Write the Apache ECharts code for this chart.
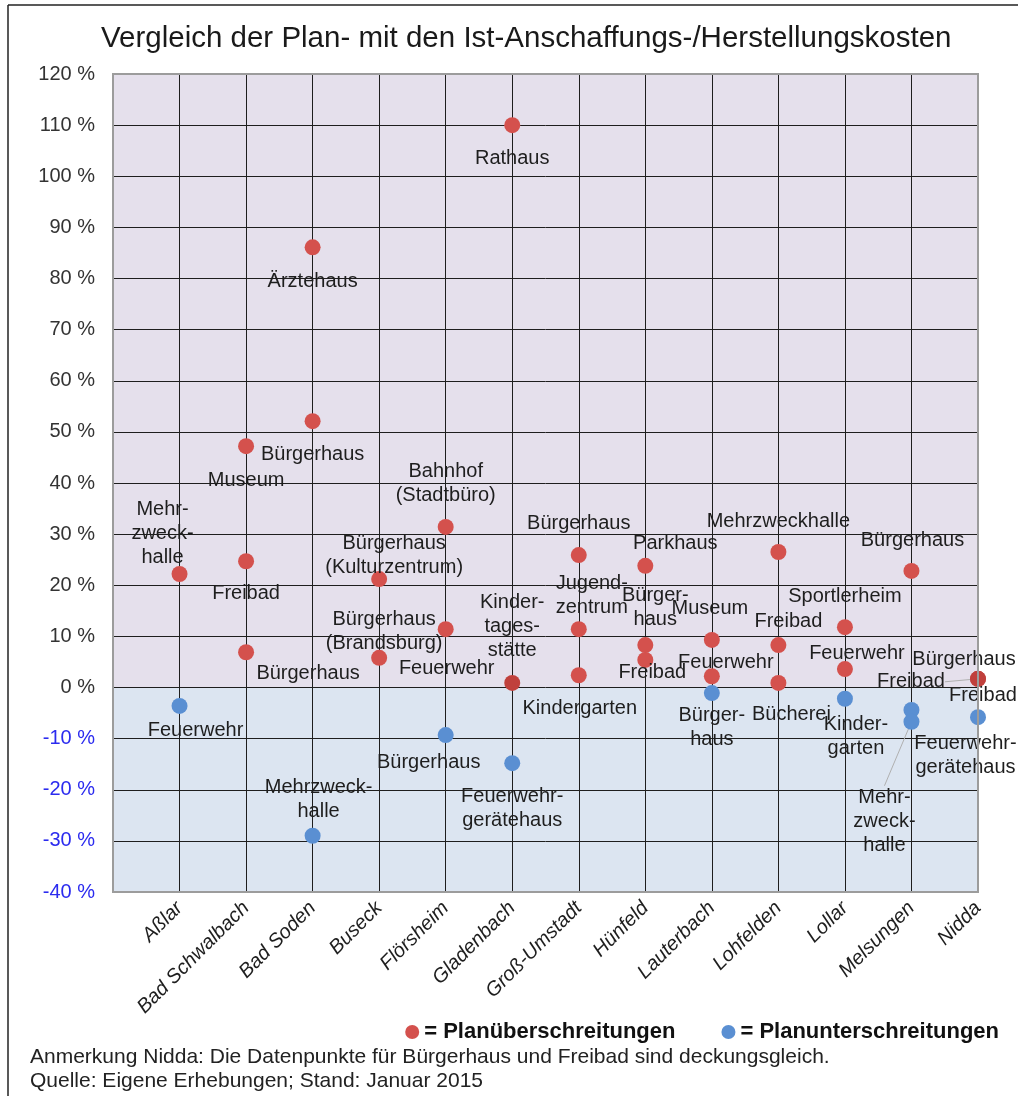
<!DOCTYPE html>
<html>
<head>
<meta charset="utf-8">
<script src="https://cdn.jsdelivr.net/npm/echarts@6/dist/echarts.min.js"></script>
<style>
  html, body { margin: 0; padding: 0; background: #fff; }
  #chart { width: 1018px; height: 1096px; }
</style>
</head>
<body>
<div id="chart"></div>
<script>
// Kommunen (x-Achse)
const categories = ['Aßlar', 'Bad Schwalbach', 'Bad Soden', 'Buseck', 'Flörsheim', 'Gladenbach',
  'Groß-Umstadt', 'Hünfeld', 'Lauterbach', 'Lohfelden', 'Lollar', 'Melsungen', 'Nidda'];

// y-Achse in %
const yTicks = [-40, -30, -20, -10, 0, 10, 20, 30, 40, 50, 60, 70, 80, 90, 100, 110, 120];

// Planüberschreitungen (rot)
const overTown = [1, 2, 2, 2, 3, 3, 4, 4, 5, 5, 6, 6, 7, 7, 7, 8, 8, 8, 9, 9, 10, 10, 10, 11, 11, 12, 13, 13];
const overPct = [22.2, 47.2, 24.7, 6.9, 86.1, 52.1, 21.2, 5.8, 31.4, 11.4, 110.0, 0.9, 25.9, 11.4, 2.4,
  23.8, 8.3, 5.4, 9.3, 2.2, 26.5, 8.3, 0.9, 11.8, 3.6, 22.8, 1.7, 1.7];
const overName = ['Mehr-\nzweck-\nhalle', 'Museum', 'Freibad', 'Bürgerhaus', 'Ärztehaus', 'Bürgerhaus',
  'Bürgerhaus\n(Kulturzentrum)', 'Bürgerhaus\n(Brandsburg)', 'Bahnhof\n(Stadtbüro)', 'Feuerwehr',
  'Rathaus', 'Kinder-\ntages-\nstätte', 'Bürgerhaus', 'Jugend-\nzentrum', 'Kindergarten',
  'Parkhaus', 'Bürger-\nhaus', 'Freibad', 'Museum', 'Feuerwehr', 'Mehrzweckhalle', 'Freibad',
  'Bücherei', 'Sportlerheim', 'Feuerwehr', 'Bürgerhaus', 'Bürgerhaus', 'Freibad'];

// Planunterschreitungen (blau)
const underTown = [1, 3, 5, 6, 9, 11, 12, 12, 13];
const underPct = [-3.6, -29.0, -9.3, -14.8, -1.1, -2.2, -4.4, -6.7, -5.8];
const underName = ['Feuerwehr', 'Mehrzweck-\nhalle', 'Bürgerhaus', 'Feuerwehr-\ngerätehaus', 'Bürger-\nhaus',
  'Kinder-\ngarten', 'Feuerwehr-\ngerätehaus', 'Mehr-\nzweck-\nhalle', 'Freibad'];

// Lage der Beschriftungen relativ zum Punkt (px)
const overShift = [[-17, -41], [0, 34], [0, 32], [62, 21], [0, 34], [0, 33], [15, -24], [5, -26],
  [0, -43], [1, 39], [0, 33], [0, -56], [0, -32], [13, -34], [1, 33], [30, -22], [10, -38], [7, 13],
  [-2, -31], [14, -14], [0, -31], [10, -24], [13, 32], [0, -31], [12, -16], [1, -30], [-14, -19], [-67, 3]];
const underShift = [[16, 25], [6, -36], [-17, 27], [0, 45], [0, 34], [11, 38], [54, 45], [-27, 100], [5, -22]];
const overLeader = [27];
const underLeader = [7];

const RED = '#d4514d';
const BLUE = '#5a8fd2';
const FONT = '"Liberation Sans", Arial, sans-serif';

function points(town, pct, names, leader) {
  return town.map((t, i) => {
    const item = { value: [t, pct[i]], name: names[i] };
    if (leader.indexOf(i) >= 0) {
      item.labelLine = { show: true, lineStyle: { color: '#b0b0b0', width: 1 } };
    }
    return item;
  });
}

const overData = points(overTown, overPct, overName, overLeader);
const underData = points(underTown, underPct, underName, underLeader);
// überlagerte Punkte (Gladenbach, Nidda) etwas dunkler
[11, 26, 27].forEach(i => { overData[i].itemStyle = { color: '#c0403c' }; });

const pointLabel = {
  show: true,
  position: 'inside',
  formatter: '{b}',
  color: '#1e1e1e',
  fontFamily: FONT,
  fontSize: 20,
  lineHeight: 24,
  align: 'center',
  verticalAlign: 'middle'
};

const chart = echarts.init(document.getElementById('chart'));
chart.setOption({
  backgroundColor: '#fff',
  animation: false,
  title: {
    text: 'Vergleich der Plan- mit den Ist-Anschaffungs-/Herstellungskosten',
    left: 96, top: 19,
    textStyle: { fontFamily: FONT, fontSize: 29.5, fontWeight: 'normal', color: '#1a1a1a' }
  },
  grid: {
    left: 113, right: 40, top: 74, bottom: 204,
    show: true, borderColor: '#9c9c9c', borderWidth: 2, z: 10
  },
  legend: {
    data: ['Planüberschreitungen', 'Planunterschreitungen'],
    right: 14, top: 1016,
    icon: 'circle', itemWidth: 14, itemHeight: 14, itemGap: 46,
    formatter: '= {name}',
    textStyle: { fontFamily: FONT, fontSize: 22, fontWeight: 'bold', color: '#111' }
  },
  xAxis: {
    type: 'value', min: 0, max: categories.length, interval: 1, z: 3,
    axisLine: { show: false }, axisTick: { show: false },
    splitLine: { show: true, lineStyle: { color: '#1e1e1e', width: 1 } },
    axisLabel: {
      rotate: 45, margin: 13,
      fontFamily: FONT, fontSize: 20, fontStyle: 'italic', color: '#1e1e1e',
      formatter: v => categories[v - 1] || ''
    }
  },
  yAxis: {
    type: 'value', min: yTicks[0], max: yTicks[yTicks.length - 1], interval: 10, z: 3,
    axisLine: { show: false }, axisTick: { show: false },
    splitLine: { show: true, lineStyle: { color: '#1e1e1e', width: 1 } },
    axisLabel: {
      margin: 18, fontFamily: FONT, fontSize: 20,
      formatter: v => v + ' %',
      color: v => (v < 0 ? '#2b2bef' : '#333')
    }
  },
  series: [
    {
      name: 'bg', type: 'scatter', data: [], silent: true, z: 1,
      markArea: {
        silent: true,
        data: [
          [{ yAxis: 0, itemStyle: { color: '#e5e0ec' } }, { yAxis: yTicks[yTicks.length - 1] }],
          [{ yAxis: yTicks[0], itemStyle: { color: '#dce5f1' } }, { yAxis: 0 }]
        ]
      }
    },
    {
      name: 'Planüberschreitungen', type: 'scatter', z: 5,
      symbolSize: 16,
      itemStyle: { color: RED, opacity: 1 },
      label: pointLabel,
      labelLayout: p => ({ dx: overShift[p.dataIndex][0], dy: overShift[p.dataIndex][1] }),
      data: overData
    },
    {
      name: 'Planunterschreitungen', type: 'scatter', z: 5,
      symbolSize: 16,
      itemStyle: { color: BLUE, opacity: 1 },
      label: pointLabel,
      labelLayout: p => ({ dx: underShift[p.dataIndex][0], dy: underShift[p.dataIndex][1] }),
      data: underData
    }
  ],
  graphic: [
    { type: 'line', shape: { x1: 8, y1: 5, x2: 1018, y2: 5 }, style: { stroke: '#222', lineWidth: 1.5 } },
    { type: 'line', shape: { x1: 8, y1: 5, x2: 8, y2: 1096 }, style: { stroke: '#222', lineWidth: 1.5 } },
    {
      type: 'text', left: 30, top: 1047,
      style: { text: 'Anmerkung Nidda: Die Datenpunkte für Bürgerhaus und Freibad sind deckungsgleich.',
        font: '21px ' + FONT, fill: '#222' }
    },
    {
      type: 'text', left: 30, top: 1071,
      style: { text: 'Quelle: Eigene Erhebungen; Stand: Januar 2015', font: '21px ' + FONT, fill: '#222' }
    }
  ]
});
</script>
</body>
</html>
